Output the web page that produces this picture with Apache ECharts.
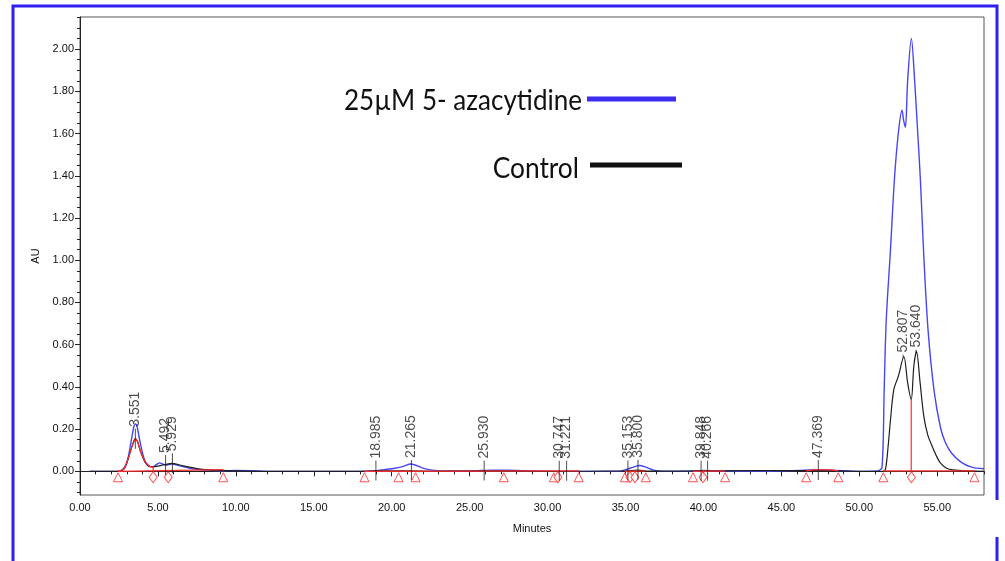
<!DOCTYPE html>
<html>
<head>
<meta charset="utf-8">
<script src="https://cdn.jsdelivr.net/npm/echarts@6/dist/echarts.min.js"></script>
<style>
html,body{margin:0;padding:0;background:#fff;}
#chart{width:1005px;height:561px;}
</style>
</head>
<body>
<div id="chart"></div>
<script>
// ---------- data ----------
const xTicks = [0, 5, 10, 15, 20, 25, 30, 35, 40, 45, 50, 55];
const yTicks = [0, 0.2, 0.4, 0.6, 0.8, 1.0, 1.2, 1.4, 1.6, 1.8, 2.0];
const seriesNames = ['25\u00B5M 5- azacytidine', 'Control'];

// 25uM 5-azacytidine trace [minutes, AU]
const azaTrace = [
  [0.6,0.0],[1.5,0.0],[2.4,0.0],[2.7,0.005],[2.9,0.02],[3.1,0.07],[3.3,0.15],[3.45,0.21],[3.55,0.225],
  [3.65,0.215],[3.8,0.16],[4.0,0.09],[4.2,0.045],[4.45,0.025],[4.7,0.022],[4.9,0.032],[5.1,0.04],
  [5.3,0.035],[5.5,0.03],[5.9,0.035],[6.3,0.028],[7.0,0.015],[7.6,0.008],[8.5,0.005],[9.2,0.003],
  [10,0.004],[11,0.003],[12,0.0],[15,0.0],[18,0.0],[19,0.003],[19.5,0.008],[20.2,0.015],[20.8,0.025],
  [21.2,0.035],[21.5,0.03],[22,0.015],[22.6,0.006],[23.5,0.002],[25,0.002],[26.5,0.006],[27.5,0.006],
  [28.5,0.002],[30,0.0],[34.5,0.0],[35,0.008],[35.5,0.02],[35.9,0.028],[36.3,0.02],[36.8,0.006],
  [37.5,0.0],[39,0.0],[40,0.004],[41,0.002],[44,0.0],[46.5,0.006],[47.5,0.008],[48.5,0.004],[50,0.0],
  [51.2,0.002],[51.46,0.02],[51.6,0.4],[51.73,0.72],[52.0,1.05],[52.25,1.38],[52.5,1.6],[52.74,1.71],
  [52.85,1.66],[52.96,1.63],[53.1,1.85],[53.34,2.05],[53.55,1.85],[53.75,1.6],[53.92,1.38],[54.15,1.0],
  [54.41,0.67],[54.8,0.38],[55.2,0.21],[55.5,0.14],[55.9,0.088],[56.5,0.045],[57.2,0.02],[58,0.012]
];

// Control trace [minutes, AU]
const controlTrace = [
  [0.6,0.0],[2.4,0.0],[2.7,0.005],[3.0,0.04],[3.3,0.11],[3.55,0.155],[3.7,0.14],[3.9,0.09],[4.2,0.04],
  [4.5,0.022],[4.8,0.022],[5.2,0.028],[5.5,0.033],[5.9,0.038],[6.4,0.03],[7.0,0.02],[7.6,0.012],
  [8.5,0.006],[9.5,0.003],[12,0.0],[18,0.0],[19,0.002],[21,0.002],[23,0.0],[25.9,0.002],[30,0.0],
  [35,0.002],[35.8,0.006],[36.5,0.001],[40,0.002],[47.4,0.004],[50,0.0],[51.5,0.0],[51.68,0.01],
  [51.85,0.12],[52.0,0.244],[52.21,0.386],[52.5,0.45],[52.86,0.544],[53.1,0.42],[53.33,0.339],
  [53.5,0.5],[53.67,0.568],[53.9,0.42],[54.14,0.26],[54.4,0.17],[54.68,0.118],[55.0,0.065],
  [55.21,0.039],[55.6,0.015],[56.0,0.007],[57,0.002],[58,0.0]
];

// integration (red) segments: integrated peak, baselines and drop lines
const integrationSegments = [
  [[2.45,0],[2.8,0.01],[3.0,0.04],[3.3,0.11],[3.55,0.155],[3.7,0.14],[3.9,0.09],[4.2,0.04],[4.5,0.022],[4.69,0.02],[4.69,0.003]],
  [[2.45,0.0],[9.2,0.008]],
  [[18.25,0.0],[32.0,0.002]],
  [[34.96,0.0],[36.3,0.002]],
  [[39.33,0.0],[41.39,0.002]],
  [[46.59,0.002],[47.0,0.007],[48.2,0.007],[48.65,0.002]],
  [[51.54,0.002],[57.39,0.002]],
  [[53.33,0.002],[53.33,0.339]]
];

// baseline start/end markers (minutes)
const triangleRT = [2.44, 9.19, 18.25, 20.44, 21.53, 27.19, 30.40, 32.0, 34.96, 36.3, 39.33, 41.39, 46.59, 48.65, 51.54, 57.39];
const diamondRT = [4.69, 5.66, 30.66, 35.28, 35.6, 39.97, 53.34];

// labelled retention times and apex heights
const peakRT   = [3.551, 5.492, 5.929, 18.985, 21.265, 25.930, 30.747, 31.221, 35.153, 35.800, 39.848, 40.266, 47.369, 52.807, 53.640];
const peakApex = [0.155, 0.03, 0.038, 0.004, 0.006, 0.004, 0.003, 0.003, 0.004, 0.008, 0.003, 0.003, 0.006, 0.544, 0.568];

// ---------- chart ----------
const chart = echarts.init(document.getElementById('chart'));
const FONT = 'Liberation Sans';
const markerLevel = -0.028;
const red = '#ff2a2a';

const xMinor = [];
for (let i = 1; i <= 58; i++) if (i % 5 !== 0) xMinor.push(i);
const yMinor = [];
for (let i = -2; i <= 43; i++) { if (i % 4 !== 0) yMinor.push(+(i * 0.05).toFixed(2)); }

const xRange = {min: 0, max: 58};
const yRange = {min: -0.112, max: 2.152};

chart.setOption({
  animation: false,
  grid: {left: 80, right: 21, top: 17, bottom: 66, show: true, borderColor: '#555', borderWidth: 1, backgroundColor: '#fff'},
  xAxis: [
    Object.assign({type: 'value', position: 'bottom',
      name: 'Minutes', nameLocation: 'middle', nameGap: 28,
      nameTextStyle: {fontFamily: FONT, fontSize: 11, color: '#111'},
      axisLine: {show: true, lineStyle: {color: '#222'}},
      axisTick: {show: true, length: 5, customValues: xTicks, lineStyle: {color: '#222'}},
      axisLabel: {customValues: xTicks, formatter: v => v.toFixed(2), fontFamily: FONT, fontSize: 11, color: '#111', margin: 7},
      splitLine: {show: false}}, xRange),
    Object.assign({type: 'value', position: 'bottom',
      axisLine: {show: false},
      axisTick: {show: true, length: 3, customValues: xMinor, lineStyle: {color: '#222'}},
      axisLabel: {show: false, customValues: xMinor},
      splitLine: {show: false}}, xRange)
  ],
  yAxis: [
    Object.assign({type: 'value', position: 'left',
      name: 'AU', nameLocation: 'middle', nameGap: 38, nameRotate: 90,
      nameTextStyle: {fontFamily: FONT, fontSize: 11, color: '#111'},
      axisLine: {show: true, lineStyle: {color: '#222'}},
      axisTick: {show: true, length: 5, customValues: yTicks, lineStyle: {color: '#222'}},
      axisLabel: {customValues: yTicks, formatter: v => v.toFixed(2), fontFamily: FONT, fontSize: 11, color: '#111', margin: 6},
      splitLine: {show: false}}, yRange),
    Object.assign({type: 'value', position: 'left',
      axisLine: {show: false},
      axisTick: {show: true, length: 3, customValues: yMinor, lineStyle: {color: '#222'}},
      axisLabel: {show: false, customValues: yMinor},
      splitLine: {show: false}}, yRange)
  ],
  series: [
    {name: seriesNames[0], type: 'line', data: azaTrace, showSymbol: false, symbol: 'none', smooth: 0.3,
     lineStyle: {color: '#4646f5', width: 1.4}, z: 3},
    {name: seriesNames[1], type: 'line', data: controlTrace, showSymbol: false, symbol: 'none', smooth: 0.3,
     lineStyle: {color: '#1e1e1e', width: 1.2}, z: 4},
    {name: 'integration', type: 'lines', coordinateSystem: 'cartesian2d', polyline: true,
     data: integrationSegments.map(s => ({coords: s})),
     lineStyle: {color: red, width: 1.2, opacity: 1}, z: 5},
    {name: 'baseline start/end', type: 'scatter', symbol: 'triangle', symbolSize: 9,
     data: triangleRT.map(t => [t, markerLevel]),
     itemStyle: {color: '#fff', borderColor: red, borderWidth: 1}, z: 6},
    {name: 'drop', type: 'scatter', symbol: 'diamond', symbolSize: [8, 11],
     data: diamondRT.map(t => [t, markerLevel]),
     itemStyle: {color: '#fff', borderColor: red, borderWidth: 1}, z: 6},
    {name: 'peaks', type: 'scatter', symbol: 'rect',
     symbolSize: v => v[1] > 0.3 ? [1, 4] : [1, 20],
     data: peakRT.map((t, i) => [t, peakApex[i]]),
     itemStyle: {color: '#222'},
     label: {show: true, position: 'top', distance: 2, rotate: 90, align: 'left', verticalAlign: 'middle',
       formatter: p => p.value[0].toFixed(3), fontFamily: FONT, fontSize: 14, color: '#222'},
     z: 7}
  ],
  graphic: [
    {type: 'polyline', shape: {points: [[13, 561], [13, 6], [997, 6], [997, 500]]},
     style: {stroke: '#2f1ff0', lineWidth: 3, fill: null}, z: 100},
    {type: 'line', shape: {x1: 997, y1: 537, x2: 997, y2: 561},
     style: {stroke: '#2f1ff0', lineWidth: 3}, z: 100},
    {type: 'text', x: 582, y: 101, scaleX: 0.93, originX: 0, originY: 0,
     style: {text: seriesNames[0], font: '28px Lato', fill: '#111', textAlign: 'right', textVerticalAlign: 'middle'}, z: 100},
    {type: 'line', shape: {x1: 587, y1: 99, x2: 676, y2: 99},
     style: {stroke: '#3a2cf0', lineWidth: 5}, z: 100},
    {type: 'text', x: 579, y: 169, scaleX: 0.94, originX: 0, originY: 0,
     style: {text: seriesNames[1], font: '28px Lato', fill: '#111', textAlign: 'right', textVerticalAlign: 'middle'}, z: 100},
    {type: 'line', shape: {x1: 590, y1: 165, x2: 682, y2: 165},
     style: {stroke: '#111', lineWidth: 5}, z: 100}
  ]
});
</script>
</body>
</html>
